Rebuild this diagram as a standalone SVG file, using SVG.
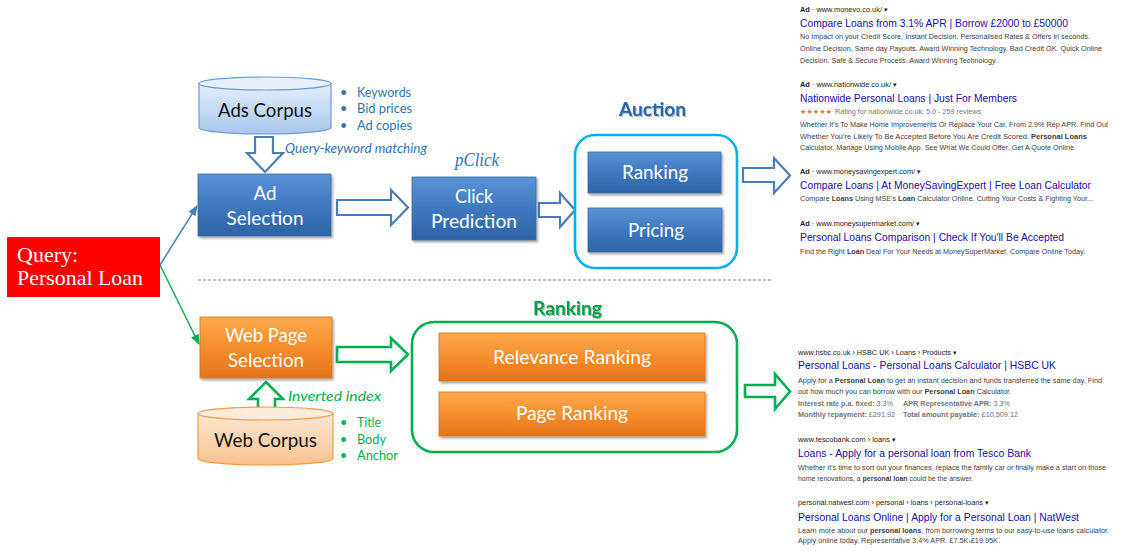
<svg xmlns="http://www.w3.org/2000/svg" width="1126" height="553" viewBox="0 0 1126 553">
<defs>
<style>
.lbl{font-family:Lato,"Open Sans",sans-serif;font-size:18.5px;fill:#fff;text-anchor:middle}
.dark{fill:#111}
.bb{font-family:Lato,sans-serif;font-size:12.5px;fill:#2E75B6}
.bg{font-family:Lato,sans-serif;font-size:12.5px;fill:#00B050}
.it{font-style:italic}
.hd{font-family:Lato,sans-serif;font-size:19px;font-weight:bold;text-anchor:middle}
.r{font-family:"Liberation Sans",Arial,sans-serif}
.t{font-size:10.3px;fill:#1a0dab}
.d{font-size:7.4px;fill:#3c4043}
.u{font-size:7.4px;fill:#202124}
.m{font-size:7px;fill:#70757a}
.b{font-weight:bold}
.hb{fill:#fff;stroke:#4A7EBB;stroke-width:2.2;stroke-linejoin:miter}
.hg{fill:#fff;stroke:#00B050;stroke-width:2.6;stroke-linejoin:miter}
</style>
<linearGradient id="gBlue" x1="0" y1="0" x2="0" y2="1">
<stop offset="0" stop-color="#5A93D6"/><stop offset="0.5" stop-color="#3F78C0"/><stop offset="1" stop-color="#2D63A6"/>
</linearGradient>
<linearGradient id="gOrange" x1="0" y1="0" x2="0" y2="1">
<stop offset="0" stop-color="#FDA94C"/><stop offset="0.5" stop-color="#F68E2D"/><stop offset="1" stop-color="#E4731A"/>
</linearGradient>
<linearGradient id="gCylB" x1="0" y1="0" x2="0" y2="1">
<stop offset="0" stop-color="#E4EEFA"/><stop offset="1" stop-color="#A9C7EC"/>
</linearGradient>
<linearGradient id="gCylO" x1="0" y1="0" x2="0" y2="1">
<stop offset="0" stop-color="#FEE8D4"/><stop offset="1" stop-color="#F9C18E"/>
</linearGradient>
<filter id="sh" x="-10%" y="-10%" width="125%" height="135%">
<feDropShadow dx="1.5" dy="2" stdDeviation="1.2" flood-color="#000" flood-opacity="0.35"/>
</filter>
<filter id="tsh" x="-10%" y="-20%" width="130%" height="150%">
<feDropShadow dx="1" dy="1" stdDeviation="0.7" flood-color="#000" flood-opacity="0.3"/>
</filter>
<marker id="aBlue" viewBox="0 0 10 10" refX="9" refY="5" markerWidth="7" markerHeight="7" orient="auto">
<path d="M0,1 L10,5 L0,9 z" fill="#4A7EBB"/>
</marker>
<marker id="aGreen" viewBox="0 0 10 10" refX="9" refY="5" markerWidth="7" markerHeight="7" orient="auto">
<path d="M0,1 L10,5 L0,9 z" fill="#00B050"/>
</marker>
</defs>
<rect width="1126" height="553" fill="#fff"/>

<g id="connectors">
<line x1="160" y1="265" x2="197" y2="206" stroke="#4A7EBB" stroke-width="1.5" marker-end="url(#aBlue)"/>
<line x1="160" y1="265" x2="199" y2="344" stroke="#00B050" stroke-width="1.5" marker-end="url(#aGreen)"/>
<polygon class="hb" points="255,137 273,137 273,153 283,153 265,172 247,153 255,153"/>
<polygon class="hb" points="337,200 391,200 391,190 408,207.5 391,225 391,215 337,215"/>
<polygon class="hb" points="539,203 560,203 560,193 575,210 560,227 560,217 539,217"/>
<polygon class="hb" points="743,168 774,168 774,158 790,175.5 774,193 774,182 743,182"/>
<polygon class="hg" points="337,347 391,347 391,338 408,354.5 391,371 391,362 337,362"/>
<polygon class="hg" points="258,416 275,416 275,399 283,399 266,382 249,399 258,399"/>
<polygon class="hg" points="745,385 775,385 775,374 790,391.5 775,409 775,397 745,397"/>
<line x1="198" y1="280" x2="773" y2="280" stroke="#BFBFBF" stroke-width="2" stroke-dasharray="3 2"/>
</g>

<g id="query">
<rect x="7" y="237" width="153" height="60" fill="#FF0000"/>
<text x="17" y="262" font-family="'Liberation Serif','Times New Roman',serif" font-size="22" fill="#fff">Query:</text>
<text x="17" y="285" font-family="'Liberation Serif','Times New Roman',serif" font-size="22" fill="#fff" textLength="126" lengthAdjust="spacingAndGlyphs">Personal Loan</text>
</g>

<g id="ads-corpus">
<path d="M199,83.5 L199,127.5 A66,6.5 0 0 0 331,127.5 L331,83.5 Z" fill="url(#gCylB)" stroke="#6C9BD2" stroke-width="1.2"/>
<ellipse cx="265" cy="83.5" rx="66" ry="6.5" fill="#E8F0FB" stroke="#6C9BD2" stroke-width="1.2"/>
<text class="lbl dark" x="265" y="117" textLength="94" lengthAdjust="spacingAndGlyphs">Ads Corpus</text>
<g class="bb">
<text x="340" y="96.5">•</text><text x="357" y="96.5" textLength="54" lengthAdjust="spacingAndGlyphs">Keywords</text>
<text x="340" y="113">•</text><text x="357" y="113" textLength="55" lengthAdjust="spacingAndGlyphs">Bid prices</text>
<text x="340" y="129.5">•</text><text x="357" y="129.5" textLength="55" lengthAdjust="spacingAndGlyphs">Ad copies</text>
</g>
<text class="bb it" x="285" y="153" font-size="13.5" textLength="142" lengthAdjust="spacingAndGlyphs">Query-keyword matching</text>
</g>

<g id="ad-selection">
<rect x="198" y="174" width="133" height="62" fill="url(#gBlue)" stroke="#3A6BA5" stroke-width="0.8" filter="url(#sh)"/>
<text class="lbl" x="265" y="199.5" textLength="23" lengthAdjust="spacingAndGlyphs">Ad</text>
<text class="lbl" x="265" y="225" textLength="77" lengthAdjust="spacingAndGlyphs">Selection</text>
</g>

<g id="click-prediction">
<text x="455" y="166" font-family="'Liberation Serif','DejaVu Serif',serif" font-style="italic" font-size="18" fill="#2E75B6" textLength="44" lengthAdjust="spacingAndGlyphs">pClick</text>
<rect x="412" y="177" width="124" height="63" fill="url(#gBlue)" stroke="#3A6BA5" stroke-width="0.8" filter="url(#sh)"/>
<text class="lbl" x="474" y="203" textLength="38" lengthAdjust="spacingAndGlyphs">Click</text>
<text class="lbl" x="474" y="228" textLength="86" lengthAdjust="spacingAndGlyphs">Prediction</text>
</g>

<g id="auction">
<text class="hd" x="652.5" y="116" fill="#2167B0" filter="url(#tsh)" textLength="67" lengthAdjust="spacingAndGlyphs">Auction</text>
<rect x="575" y="135" width="162" height="133" rx="20" fill="none" stroke="#00B0F0" stroke-width="2.6"/>
</g>
<g id="ranking-ad">
<rect x="588" y="152" width="133" height="41" fill="url(#gBlue)" stroke="#3A6BA5" stroke-width="0.8" filter="url(#sh)"/>
<text class="lbl" x="655" y="179" textLength="66" lengthAdjust="spacingAndGlyphs">Ranking</text>
</g>
<g id="pricing">
<rect x="588" y="208" width="134" height="44" fill="url(#gBlue)" stroke="#3A6BA5" stroke-width="0.8" filter="url(#sh)"/>
<text class="lbl" x="656" y="237" textLength="56" lengthAdjust="spacingAndGlyphs">Pricing</text>
</g>

<g id="web-page-selection">
<rect x="200" y="317" width="132" height="61" fill="url(#gOrange)" stroke="#D9741E" stroke-width="0.8" filter="url(#sh)"/>
<text class="lbl" x="266" y="342" textLength="82" lengthAdjust="spacingAndGlyphs">Web Page</text>
<text class="lbl" x="266" y="367" textLength="76" lengthAdjust="spacingAndGlyphs">Selection</text>
</g>

<g id="web-corpus">
<path d="M198,413.5 L198,458.5 A67.5,6.5 0 0 0 333,458.5 L333,413.5 Z" fill="url(#gCylO)" stroke="#F39A4C" stroke-width="1.2"/>
<ellipse cx="265.5" cy="413.5" rx="67.5" ry="6.5" fill="#FEEBDA" stroke="#F39A4C" stroke-width="1.2"/>
<text class="lbl dark" x="265.5" y="447" textLength="103" lengthAdjust="spacingAndGlyphs">Web Corpus</text>
<text class="bg it" x="288" y="401" font-size="13.5" textLength="93" lengthAdjust="spacingAndGlyphs">Inverted index</text>
<g class="bg">
<text x="340" y="427">•</text><text x="357" y="427" textLength="24" lengthAdjust="spacingAndGlyphs">Title</text>
<text x="340" y="443.5">•</text><text x="357" y="443.5" textLength="29" lengthAdjust="spacingAndGlyphs">Body</text>
<text x="340" y="460">•</text><text x="357" y="460" textLength="41" lengthAdjust="spacingAndGlyphs">Anchor</text>
</g>
</g>

<g id="ranking">
<text class="hd" x="567.5" y="315" fill="#00A04A" filter="url(#tsh)" textLength="69" lengthAdjust="spacingAndGlyphs">Ranking</text>
<rect x="412" y="322" width="325" height="130" rx="22" fill="none" stroke="#00B050" stroke-width="2.6"/>
</g>
<g id="relevance-ranking">
<rect x="439" y="333" width="266" height="48" fill="url(#gOrange)" stroke="#D9741E" stroke-width="0.8" filter="url(#sh)"/>
<text class="lbl" x="572" y="364" textLength="158" lengthAdjust="spacingAndGlyphs">Relevance Ranking</text>
</g>
<g id="page-ranking">
<rect x="439" y="392" width="266" height="44" fill="url(#gOrange)" stroke="#D9741E" stroke-width="0.8" filter="url(#sh)"/>
<text class="lbl" x="572" y="420" textLength="112" lengthAdjust="spacingAndGlyphs">Page Ranking</text>
</g>

<g id="ad-results" class="r">
<text class="u" x="800" y="12" textLength="88" lengthAdjust="spacingAndGlyphs"><tspan class="b">Ad</tspan> · www.monevo.co.uk/ ▾</text>
<text class="t" x="800" y="27.3" textLength="268" lengthAdjust="spacingAndGlyphs">Compare Loans from 3.1% APR | Borrow £2000 to £50000</text>
<text class="d" x="800" y="38.7" textLength="290" lengthAdjust="spacingAndGlyphs">No Impact on your Credit Score, Instant Decision, Personalised Rates &amp; Offers in seconds.</text>
<text class="d" x="800" y="51" textLength="302" lengthAdjust="spacingAndGlyphs">Online Decision, Same day Payouts. Award Winning Technology, Bad Credit OK. Quick Online</text>
<text class="d" x="800" y="63.3" textLength="197" lengthAdjust="spacingAndGlyphs">Decision. Safe &amp; Secure Process. Award Winning Technology.</text>

<text class="u" x="800" y="87.3" textLength="97" lengthAdjust="spacingAndGlyphs"><tspan class="b">Ad</tspan> · www.nationwide.co.uk/ ▾</text>
<text class="t" x="800" y="101.7" textLength="217" lengthAdjust="spacingAndGlyphs">Nationwide Personal Loans | Just For Members</text>
<text class="m" x="800" y="114" textLength="32" lengthAdjust="spacingAndGlyphs" style="fill:#E7711B;font-family:'DejaVu Sans',sans-serif">★★★★★</text>
<text class="m" x="835" y="114" textLength="146" lengthAdjust="spacingAndGlyphs">Rating for nationwide.co.uk: 5.0 - 259 reviews</text>
<text class="d" x="800" y="126.7" textLength="308" lengthAdjust="spacingAndGlyphs">Whether It's To Make Home Improvements Or Replace Your Car. From 2.9% Rep APR. Find Out</text>
<text class="d" x="800" y="138.7" textLength="287" lengthAdjust="spacingAndGlyphs">Whether You're Likely To Be Accepted Before You Are Credit Scored. <tspan class="b">Personal Loans</tspan></text>
<text class="d" x="800" y="150" textLength="276" lengthAdjust="spacingAndGlyphs">Calculator. Manage Using Mobile App. See What We Could Offer. Get A Quote Online.</text>

<text class="u" x="800" y="173.7" textLength="121" lengthAdjust="spacingAndGlyphs"><tspan class="b">Ad</tspan> · www.moneysavingexpert.com/ ▾</text>
<text class="t" x="800" y="189" textLength="291" lengthAdjust="spacingAndGlyphs">Compare Loans | At MoneySavingExpert | Free Loan Calculator</text>
<text class="d" x="800" y="201" textLength="293" lengthAdjust="spacingAndGlyphs">Compare <tspan class="b">Loans</tspan> Using MSE's <tspan class="b">Loan</tspan> Calculator Online. Cutting Your Costs &amp; Fighting Your...</text>

<text class="u" x="800" y="226.3" textLength="120" lengthAdjust="spacingAndGlyphs"><tspan class="b">Ad</tspan> · www.moneysupermarket.com/ ▾</text>
<text class="t" x="800" y="241" textLength="264" lengthAdjust="spacingAndGlyphs">Personal Loans Comparison | Check If You'll Be Accepted</text>
<text class="d" x="800" y="253.7" textLength="285" lengthAdjust="spacingAndGlyphs">Find the Right <tspan class="b">Loan</tspan> Deal For Your Needs at MoneySuperMarket. Compare Online Today.</text>
</g>

<g id="web-results" class="r">
<text class="u" x="798" y="355" textLength="159" lengthAdjust="spacingAndGlyphs">www.hsbc.co.uk › HSBC UK › Loans › Products ▾</text>
<text class="t" x="798" y="369.3" textLength="258" lengthAdjust="spacingAndGlyphs">Personal Loans - Personal Loans Calculator | HSBC UK</text>
<text class="d" x="798" y="383" textLength="304" lengthAdjust="spacingAndGlyphs">Apply for a <tspan class="b">Personal Loan</tspan> to get an instant decision and funds transferred the same day. Find</text>
<text class="d" x="798" y="394" textLength="213" lengthAdjust="spacingAndGlyphs">out how much you can borrow with our <tspan class="b">Personal Loan</tspan> Calculator.</text>
<text class="m" x="798" y="406.3" textLength="95" lengthAdjust="spacingAndGlyphs"><tspan class="b">Interest rate p.a. fixed:</tspan> 3.3%</text>
<text class="m" x="903" y="406.3" textLength="107" lengthAdjust="spacingAndGlyphs"><tspan class="b">APR Representative APR:</tspan> 3.3%</text>
<text class="m" x="798" y="417" textLength="97" lengthAdjust="spacingAndGlyphs"><tspan class="b">Monthly repayment:</tspan> £291.92</text>
<text class="m" x="903" y="417" textLength="115" lengthAdjust="spacingAndGlyphs"><tspan class="b">Total amount payable:</tspan> £10,509.12</text>

<text class="u" x="798" y="441.7" textLength="98" lengthAdjust="spacingAndGlyphs">www.tescobank.com › loans ▾</text>
<text class="t" x="798" y="457.3" textLength="233" lengthAdjust="spacingAndGlyphs">Loans - Apply for a personal loan from Tesco Bank</text>
<text class="d" x="798" y="470" textLength="308" lengthAdjust="spacingAndGlyphs">Whether it's time to sort out your finances, replace the family car or finally make a start on those</text>
<text class="d" x="798" y="480.7" textLength="175" lengthAdjust="spacingAndGlyphs">home renovations, a <tspan class="b">personal loan</tspan> could be the answer.</text>

<text class="u" x="798" y="505" textLength="191" lengthAdjust="spacingAndGlyphs">personal.natwest.com › personal › loans › personal-loans ▾</text>
<text class="t" x="798" y="520.7" textLength="281" lengthAdjust="spacingAndGlyphs">Personal Loans Online | Apply for a Personal Loan | NatWest</text>
<text class="d" x="798" y="532.7" textLength="311" lengthAdjust="spacingAndGlyphs">Learn more about our <tspan class="b">personal loans</tspan>, from borrowing terms to our easy-to-use loans calculator.</text>
<text class="d" x="798" y="543.3" textLength="202" lengthAdjust="spacingAndGlyphs">Apply online today. Representative 3.4% APR. £7.5K-£19.95K.</text>
</g>
</svg>
